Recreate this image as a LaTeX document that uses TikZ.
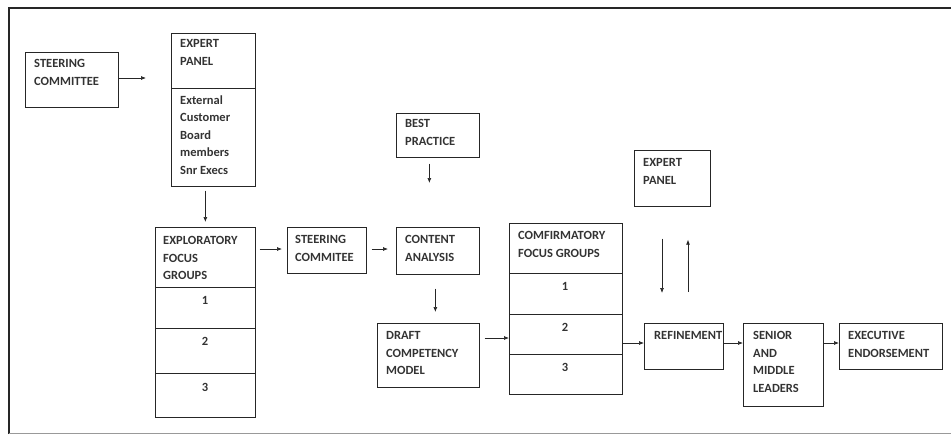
\documentclass[tikz,border=0pt]{standalone}
\usepackage{fontspec}
\setmainfont{Carlito}
\usetikzlibrary{arrows.meta}
\begin{document}
\begin{tikzpicture}[x=1pt,y=-1pt,
  box/.style={draw=black!85, line width=0.7pt, anchor=north west, inner sep=0pt},
  txt/.style={anchor=north west, inner sep=0pt, align=left, text=black!80,
    font=\fontsize{12.5}{17.5}\selectfont\bfseries},
  num/.style={anchor=center, inner sep=0pt, text=black!80, font=\fontsize{12.5}{17.5}\selectfont\bfseries},
  arr/.style={draw=black!85, line width=0.7pt, -{Latex[length=5pt,width=4pt]}},
  divl/.style={draw=black!85, line width=0.7pt}]
\useasboundingbox (0,0) rectangle (951,434);
% frame
\draw[line width=1.2pt, black!85] (9,434) -- (9,8) -- (951,8);
\draw[line width=0.8pt, black!40] (9,433) -- (951,433);

% boxes
\node[box, minimum width=93pt, minimum height=55pt] (sc) at (25,52) {};
\node[box, minimum width=84pt, minimum height=153pt] (ep) at (171,33) {};
\node[box, minimum width=100pt, minimum height=190pt] (efg) at (155,227) {};
\node[box, minimum width=79pt, minimum height=46pt] (sc2) at (287,227) {};
\node[box, minimum width=83pt, minimum height=44pt] (bp) at (396,113) {};
\node[box, minimum width=83pt, minimum height=47pt] (ca) at (396,227) {};
\node[box, minimum width=102pt, minimum height=64pt] (dcm) at (377,323) {};
\node[box, minimum width=113pt, minimum height=171pt] (cfg) at (509,223) {};
\node[box, minimum width=76pt, minimum height=56pt] (ep2) at (634,150) {};
\node[box, minimum width=79pt, minimum height=46pt] (ref) at (644,323) {};
\node[box, minimum width=80pt, minimum height=83pt] (sml) at (743,323) {};
\node[box, minimum width=103pt, minimum height=46pt] (ee) at (839,323) {};

% dividers
\draw[divl] (ep.west |- 0,88) -- (ep.east |- 0,88);
\draw[divl] (efg.west |- 0,287) -- (efg.east |- 0,287);
\draw[divl] (efg.west |- 0,328) -- (efg.east |- 0,328);
\draw[divl] (efg.west |- 0,373) -- (efg.east |- 0,373);
\draw[divl] (cfg.west |- 0,273) -- (cfg.east |- 0,273);
\draw[divl] (cfg.west |- 0,314) -- (cfg.east |- 0,314);
\draw[divl] (cfg.west |- 0,354) -- (cfg.east |- 0,354);

% texts
\node[txt] (tsc) at (34,59.5) {STEERING\\COMMITTEE};
\node[txt] (tep) at (180,39.5) {EXPERT\\PANEL};
\node[txt] (tep2) at (180,95.5) {External\\Customer\\Board\\members\\Snr Execs};
\node[txt] (tefg) at (163,236.5) {EXPLORATORY\\FOCUS\\GROUPS};
\node[num] (n1) at (205,300) {1};
\node[num] (n2) at (205,341) {2};
\node[num] (n3) at (205,387) {3};
\node[txt] (tsc2) at (295,235.5) {STEERING\\COMMITEE};
\node[txt] (tbp) at (405,119.5) {BEST\\PRACTICE};
\node[txt] (tca) at (405,235.5) {CONTENT\\ANALYSIS};
\node[txt] (tdcm) at (386,331.5) {DRAFT\\COMPETENCY\\MODEL};
\node[txt] (tcfg) at (518,231.5) {COMFIRMATORY\\FOCUS GROUPS};
\node[num] (m1) at (565,286) {1};
\node[num] (m2) at (565,327) {2};
\node[num] (m3) at (565,367) {3};
\node[txt] (tep3) at (643,158.5) {EXPERT\\PANEL};
\node[txt] (tref) at (654,331.5) {REFINEMENT};
\node[txt] (tsml) at (753,331.5) {SENIOR\\AND\\MIDDLE\\LEADERS};
\node[txt] (tee) at (848,331.5) {EXECUTIVE\\ENDORSEMENT};

% connectors
\coordinate (rowy) at (0,343);
\draw[arr, shorten >=25pt] (sc.east |- 0,78) -- (ep.west |- 0,78);
\draw[arr, shorten <=4pt, shorten >=5pt] (ep.south -| efg.north) -- (efg.north);
\draw[arr, shorten <=4pt, shorten >=5pt] (efg.east |- 0,249) -- (sc2.west |- 0,249);
\draw[arr, shorten <=5pt, shorten >=8pt] (sc2.east |- 0,249) -- (ca.west |- 0,249);
\draw[arr, shorten <=6pt, shorten >=44pt] ([xshift=-8.5pt]bp.south) -- ([xshift=-8.5pt]bp.south |- ca.north);
\draw[arr, shorten <=14pt, shorten >=11pt] ([xshift=-2.5pt]ca.south) -- ([xshift=-2.5pt]ca.south |- dcm.north);
\draw[arr, shorten <=5pt] (dcm.east |- 0,338) -- (cfg.west |- 0,338);
\draw[arr, shorten <=32pt, shorten >=30pt] ([xshift=28pt]ep2.south west) -- ([xshift=28pt]ep2.south west |- ref.north);
\draw[arr, shorten <=31pt, shorten >=33pt] ([xshift=54pt]ep2.south west |- ref.north) -- ([xshift=54pt]ep2.south west);
\draw[arr] (cfg.east |- rowy) -- (ref.west |- rowy);
\draw[arr] (ref.east |- rowy) -- (sml.west |- rowy);
\draw[arr] (sml.east |- rowy) -- (ee.west |- rowy);
\end{tikzpicture}
\end{document}
